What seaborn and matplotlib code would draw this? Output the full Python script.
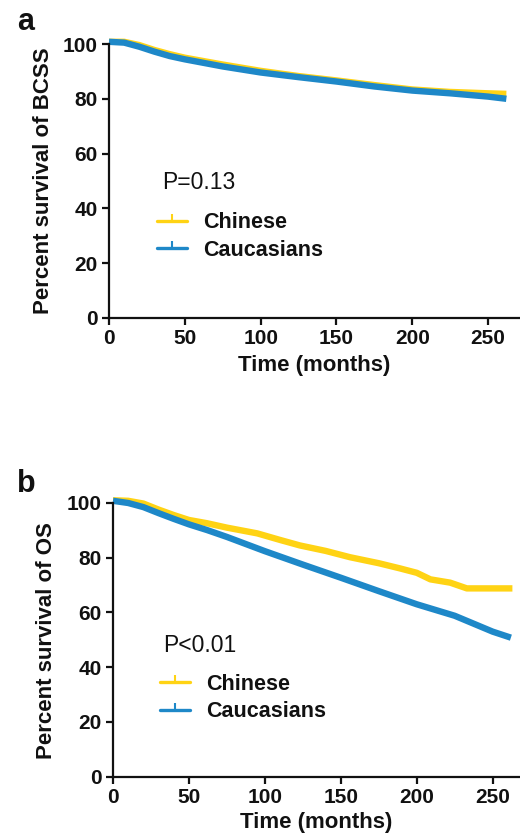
import numpy as np
import pandas as pd
import matplotlib
matplotlib.use("Agg")
import matplotlib.pyplot as plt
from matplotlib.lines import Line2D
import seaborn as sns

# ---------------- data ----------------
groups = ["Chinese", "Caucasians"]
colors = {"Chinese": "#FFD314", "Caucasians": "#1E88C8"}

months_a = [0, 10, 20, 30, 40, 50, 75, 100, 125, 150, 175, 200, 225, 250, 262]
bcss_chinese = [100.8, 100.8, 99.6, 97.8, 96.3, 95.0, 92.5, 90.2, 88.3, 86.7, 85.0, 83.4, 82.5, 82.0, 81.8]
bcss_caucasian = [100.8, 100.5, 99.0, 97.2, 95.6, 94.4, 91.8, 89.6, 87.9, 86.3, 84.5, 83.0, 82.0, 80.8, 80.0]

months_b_chinese = [0, 10, 20, 30, 40, 50, 62, 75, 95, 110, 123, 140, 156, 175, 189, 200, 209,
                    222, 233, 263]
os_chinese = [101.0, 100.8, 99.8, 97.6, 95.6, 93.8, 92.6, 91.0, 88.9, 86.5, 84.5, 82.5, 80.2,
              78.0, 76.1, 74.5, 72.1, 70.9, 68.8, 68.8]
months_b_cauc = [0, 10, 20, 30, 40, 50, 62, 75, 100, 125, 150, 175, 200, 225, 250, 262]
os_caucasian = [100.8, 100.0, 98.5, 96.3, 94.2, 92.2, 90.1, 87.6, 82.4, 77.5, 72.7, 67.8,
                63.0, 58.8, 53.0, 50.8]

x_ticks = [0, 50, 100, 150, 200, 250]
y_ticks = [0, 20, 40, 60, 80, 100]

df_a = pd.concat([
    pd.DataFrame({"month": months_a, "value": bcss_chinese, "group": "Chinese"}),
    pd.DataFrame({"month": months_a, "value": bcss_caucasian, "group": "Caucasians"}),
])
df_b = pd.concat([
    pd.DataFrame({"month": months_b_chinese, "value": os_chinese, "group": "Chinese"}),
    pd.DataFrame({"month": months_b_cauc, "value": os_caucasian, "group": "Caucasians"}),
])

# ---------------- style ----------------
sns.set_style("ticks")
plt.rcParams["font.family"] = ["Liberation Sans", "DejaVu Sans"]

W, H = 520, 839
fig = plt.figure(figsize=(W / 100, H / 100), dpi=100)


def make_panel(ax, df, xmax, ylabel, ptext, ptext_xy, leg_xy, ylab_coords, xlab_y):
    sns.lineplot(data=df, x="month", y="value", hue="group", hue_order=groups,
                 palette=colors, linewidth=4.6, legend=False, ax=ax, estimator=None,
                 sort=True)
    for ln in ax.lines:
        ln.set_clip_on(False)
        ln.set_solid_capstyle("butt")
        ln.set_solid_joinstyle("round")
    ax.set_xlim(0, xmax)
    ax.set_ylim(0, 100)
    ax.set_xticks(x_ticks)
    ax.set_yticks(y_ticks)
    for s in ["top", "right"]:
        ax.spines[s].set_visible(False)
    for s in ["left", "bottom"]:
        ax.spines[s].set_linewidth(1.6)
        ax.spines[s].set_color("#111111")
    ax.tick_params(axis="both", direction="out", length=5, width=1.6, color="#111111",
                   labelsize=15, pad=3)
    for lab in ax.get_xticklabels() + ax.get_yticklabels():
        lab.set_fontweight("bold")
        lab.set_color("#111111")
    ax.set_xlabel("Time (months)", fontsize=16, fontweight="bold", color="#111111")
    ax.set_ylabel(ylabel, fontsize=16, fontweight="bold", color="#111111")
    ax.yaxis.set_label_coords(*ylab_coords)
    ax.xaxis.set_label_coords(0.5, xlab_y)
    ax.text(ptext_xy[0], ptext_xy[1], ptext, fontsize=16.5, va="center", ha="left",
            color="#111111")
    handles = [Line2D([0], [0], color=colors[g], lw=2.4, marker=2, markersize=5,
                      markeredgewidth=1.5) for g in groups]
    ax.legend(handles, groups, loc="center left", bbox_to_anchor=leg_xy, frameon=False,
              prop={"size": 15.5, "weight": "bold"}, handlelength=1.4, handletextpad=0.75,
              labelspacing=0.3, borderpad=0, borderaxespad=0)
    for t in ax.get_legend().get_texts():
        t.set_color("#111111")


ax_a = fig.add_axes([109 / W, 1 - 318 / H, (W - 109) / W, 274 / H])
make_panel(ax_a, df_a, 271, "Percent survival of BCSS", "P=0.13", (35, 49.3),
           (0.117, 0.297), (-0.135, 0.5), -0.135)

ax_b = fig.add_axes([113 / W, 1 - 776.7 / H, (W - 113) / W, 273.7 / H])
make_panel(ax_b, df_b, 268, "Percent survival of OS", "P<0.01", (33, 48.1),
           (0.1155, 0.2875), (-0.138, 0.497), -0.13)

fig.text(17 / W, 1 - 30 / H, "a", fontsize=22, fontweight="bold", va="baseline", ha="left",
         color="#111111")
fig.text(17 / W, 1 - 491.5 / H, "b", fontsize=22, fontweight="bold", va="baseline", ha="left",
         color="#111111")

fig.savefig("out.png", dpi=100)
